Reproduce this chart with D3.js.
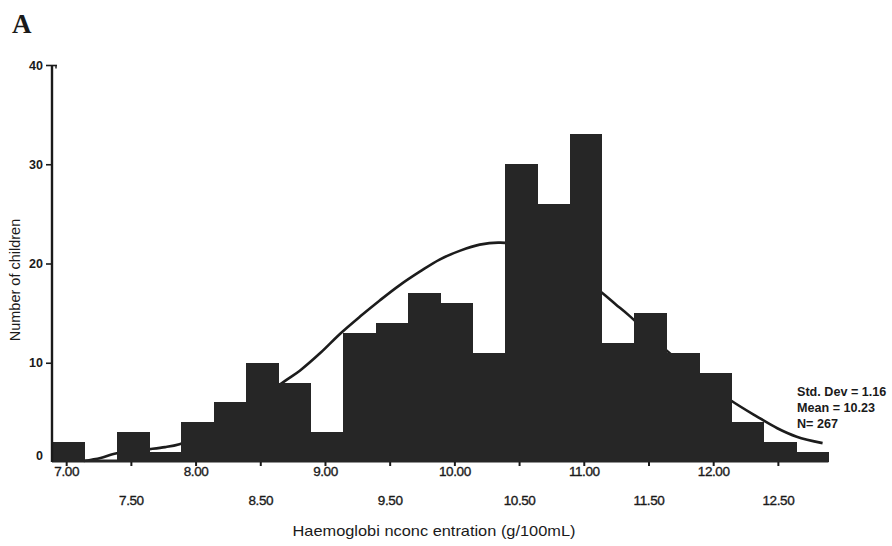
<!DOCTYPE html>
<html>
<head>
<meta charset="utf-8">
<script src="https://cdn.jsdelivr.net/npm/d3@7"></script>
<style>
  body { margin: 0; background: #fff; }
  svg { display: block; }
  text { font-family: "Liberation Sans", Arial, sans-serif; fill: #1a1a1a; }
</style>
</head>
<body>
<svg id="chart" width="892" height="546"></svg>
<script>
// Histogram bins (centre of each 0.25 g/100mL bin) and counts
const binCenters = [7.00, 7.25, 7.50, 7.75, 8.00, 8.25, 8.50, 8.75, 9.00, 9.25, 9.50, 9.75,
                    10.00, 10.25, 10.50, 10.75, 11.00, 11.25, 11.50, 11.75, 12.00, 12.25, 12.50, 12.75];
const counts = [2, 0, 3, 1, 4, 6, 10, 8, 3, 13, 14, 17,
                16, 11, 30, 26, 33, 12, 15, 11, 9, 4, 2, 1];

// Fitted normal curve
const curveHb = [7.12, 7.25, 7.35, 7.48, 7.63, 7.75, 7.86, 8.10, 8.33, 8.52, 8.69, 8.79, 8.95,
                 9.10, 9.26, 9.41, 9.56, 9.72, 9.87, 10.03, 10.18, 10.34, 10.57, 10.80, 10.99,
                 11.13, 11.23, 11.34, 11.61, 11.86, 12.11, 12.32, 12.48, 12.63, 12.83];
const curveCount = [0.1, 0.4, 0.8, 1.1, 1.3, 1.5, 1.8, 3.0, 4.8, 6.7, 8.3, 9.2, 11.0,
                    12.9, 14.7, 16.3, 17.8, 19.2, 20.4, 21.3, 21.9, 22.1, 21.6, 20.0, 18.4,
                    17.0, 15.9, 14.7, 11.4, 8.7, 6.3, 4.6, 3.4, 2.55, 1.9];

const xTickValues = [7.00, 7.50, 8.00, 8.50, 9.00, 9.50, 10.00, 10.50, 11.00, 11.50, 12.00, 12.50];
const yTickValues = [0, 10, 20, 30, 40];
const statsLines = ["Std. Dev = 1.16", "Mean = 10.23", "N= 267"];
const binWidth = 0.25;

const svg = d3.select("#chart");
const x = d3.scaleLinear().domain([6.875, 12.875]).range([52, 828.4]);
const y = d3.scaleLinear().domain([0, 40]).range([462, 65]);

const barColor = "#262626";

// Panel letter
svg.append("text").attr("x", 12).attr("y", 33)
  .style("font-family", "'Liberation Serif', 'Times New Roman', serif")
  .style("font-weight", "bold").style("font-size", "27px").text("A");

// Normal curve (drawn under the bars)
const line = d3.line().x((d, i) => x(curveHb[i])).y((d, i) => y(curveCount[i]))
  .curve(d3.curveCatmullRom.alpha(0.5));
svg.append("path").datum(curveHb).attr("d", line)
  .attr("fill", "none").attr("stroke", "#1c1c1c").attr("stroke-width", 2.6);

// Bars
svg.append("g").attr("shape-rendering", "crispEdges")
  .selectAll("rect").data(binCenters).join("rect")
  .attr("x", d => x(d - binWidth / 2))
  .attr("width", d => x(d + binWidth / 2) - x(d - binWidth / 2) + 0.5)
  .attr("y", (d, i) => y(counts[i]))
  .attr("height", (d, i) => y(0) - y(counts[i]))
  .attr("fill", barColor);

// Baseline
svg.append("line").attr("x1", x(6.875)).attr("x2", x(12.875))
  .attr("y1", y(0) - 1).attr("y2", y(0) - 1)
  .attr("stroke", barColor).attr("stroke-width", 3);

// Y axis
const yAxis = d3.axisLeft(y).tickValues(yTickValues).tickSize(6).tickPadding(3)
  .tickFormat(d3.format("d"));
const gy = svg.append("g").attr("transform", `translate(${x(6.875)},0)`).call(yAxis);
gy.select(".domain").attr("stroke", "#1a1a1a").attr("stroke-width", 2.4)
  .attr("d", `M0,${y(0)}V${y(40)}`);
gy.selectAll(".tick line").attr("stroke", "#1a1a1a").attr("stroke-width", 1.6);
gy.selectAll(".tick").filter(d => d === 0).select("line").remove();
gy.selectAll(".tick text").style("font-size", "12.5px").style("font-weight", "bold")
  .attr("fill", "#1a1a1a").attr("dy", "0.32em");
gy.selectAll(".tick").filter(d => d === 0).select("text").attr("dy", "-0.2em");
gy.selectAll(".tick").filter(d => d === 40).append("line")
  .attr("x1", 0).attr("x2", 5).attr("stroke", "#1a1a1a").attr("stroke-width", 1.6);
gy.selectAll(".tick").filter(d => d === 40).append("line")
  .attr("x1", 4).attr("x2", 4).attr("y1", 0).attr("y2", 3).attr("stroke", "#1a1a1a").attr("stroke-width", 1.4);

// X axis
const xAxis = d3.axisBottom(x).tickValues(xTickValues).tickSize(4).tickPadding(5)
  .tickFormat(d3.format(".2f"));
const gx = svg.append("g").attr("transform", `translate(-2,${y(0)})`).call(xAxis);
gx.select(".domain").remove();
gx.selectAll(".tick line").attr("stroke", "#1a1a1a").attr("stroke-width", 2);
gx.selectAll(".tick text").style("font-size", "13.5px").style("letter-spacing", "-0.4px")
  .attr("fill", "#1a1a1a").attr("stroke", "#1a1a1a").attr("stroke-width", 0.35)
  .attr("y", (d, i) => i % 2 === 0 ? 4 : 33);

// Axis titles
svg.append("text").attr("transform", "translate(20,280) rotate(-90)")
  .attr("text-anchor", "middle").style("font-size", "14.5px").text("Number of children");
svg.append("text").attr("x", 434).attr("y", 536).attr("text-anchor", "middle")
  .attr("textLength", 283).attr("lengthAdjust", "spacingAndGlyphs")
  .style("font-size", "15px")
  .text("Haemoglobi nconc entration (g/100mL)");

// Statistics box
svg.append("g").selectAll("text").data(statsLines).join("text")
  .attr("x", 797).attr("y", (d, i) => 396 + i * 16)
  .style("font-size", "12.6px").style("font-weight", "bold")
  .text(d => d);
</script>
</body>
</html>
